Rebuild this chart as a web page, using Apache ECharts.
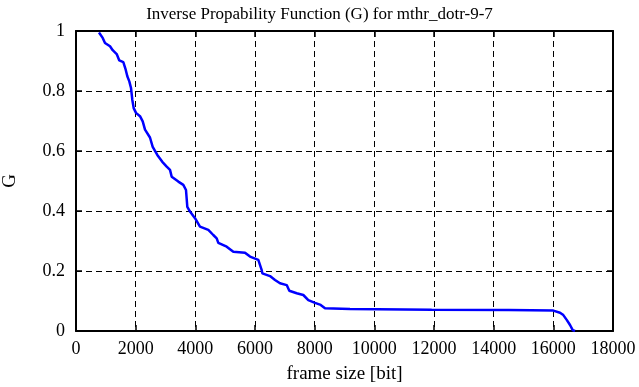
<!DOCTYPE html>
<html><head><meta charset="utf-8">
<script src="https://cdn.jsdelivr.net/npm/echarts@6/dist/echarts.min.js"></script>
<style>html,body{margin:0;padding:0;background:#fff}#c{width:639px;height:387px}</style>
</head><body><div id="c"></div>
<script>
const title = "Inverse Propability Function (G) for mthr_dotr-9-7";
const xName = "frame size [bit]";
const yName = "G";
const xTicks = [0,2000,4000,6000,8000,10000,12000,14000,16000,18000];
const yTicks = [0,0.2,0.4,0.6,0.8,1];
const frameSize = [770,895,972,1140,1230,1364,1451,1586,1666,1720,1787,1844,1887,1934,2011,2145,2236,2313,2480,2571,2725,2893,3040,3151,3208,3429,3597,3687,3731,3821,3989,4156,4435,4602,4716,4770,5051,5273,5665,5833,6111,6225,6245,6503,6671,6838,7063,7150,7398,7619,7787,8011,8202,8346,9184,11923,14500,16000,16224,16335,16449,16560,16650,16727];
const gValue = [0.995,0.977,0.96,0.949,0.936,0.923,0.902,0.896,0.871,0.849,0.832,0.81,0.771,0.743,0.727,0.716,0.699,0.671,0.645,0.614,0.587,0.564,0.548,0.537,0.514,0.498,0.487,0.47,0.414,0.398,0.376,0.348,0.337,0.32,0.309,0.294,0.281,0.264,0.261,0.248,0.237,0.203,0.192,0.183,0.17,0.159,0.153,0.134,0.126,0.12,0.103,0.094,0.087,0.076,0.073,0.071,0.07,0.068,0.061,0.053,0.037,0.02,0.003,0];

const font = "'Liberation Serif','DejaVu Serif',serif";
const chart = echarts.init(document.getElementById('c'), null, {renderer:'canvas'});
const axisCommon = {
  axisLine:{show:true,onZero:false,lineStyle:{color:'#000',width:2}},
  axisTick:{show:true,inside:true,length:6,lineStyle:{color:'#000',width:1.5}},
};
chart.setOption({
  animation:false,
  backgroundColor:'#fff',
  title:{text:title,left:'center',top:1,textStyle:{fontFamily:font,fontSize:17,fontWeight:'normal',color:'#000'}},
  grid:{left:76,right:26,top:31,bottom:56,show:false,containLabel:false,outerBoundsMode:'none'},
  xAxis:[{
    type:'value',min:0,max:18000,interval:2000,position:'bottom',
    name:xName,nameLocation:'middle',nameGap:34,
    nameTextStyle:{fontFamily:font,fontSize:19,color:'#000'},
    ...axisCommon,
    axisLabel:{fontFamily:font,fontSize:18,color:'#000',margin:9,formatter:v=>String(v)},
    splitLine:{show:true,lineStyle:{color:'#000',type:[6,4],width:1}}
  },{
    type:'value',min:0,max:18000,interval:2000,position:'top',
    ...axisCommon,axisLabel:{show:false},splitLine:{show:false}
  }],
  yAxis:[{
    type:'value',min:0,max:1,interval:0.2,position:'left',
    name:yName,nameLocation:'middle',nameGap:56,nameRotate:90,
    nameTextStyle:{fontFamily:font,fontSize:19,color:'#000'},
    ...axisCommon,
    axisLabel:{fontFamily:font,fontSize:18,color:'#000',margin:11,formatter:v=>String(+v.toFixed(1))},
    splitLine:{show:true,lineStyle:{color:'#000',type:[6,4],width:1}}
  },{
    type:'value',min:0,max:1,interval:0.2,position:'right',
    ...axisCommon,axisLabel:{show:false},splitLine:{show:false}
  }],
  series:[{
    type:'line',data:frameSize.map((x,i)=>[x,gValue[i]]),
    showSymbol:false,symbol:'none',
    lineStyle:{color:'#0000ff',width:2.5},
    xAxisIndex:0,yAxisIndex:0,z:5
  }]
});
</script></body></html>
